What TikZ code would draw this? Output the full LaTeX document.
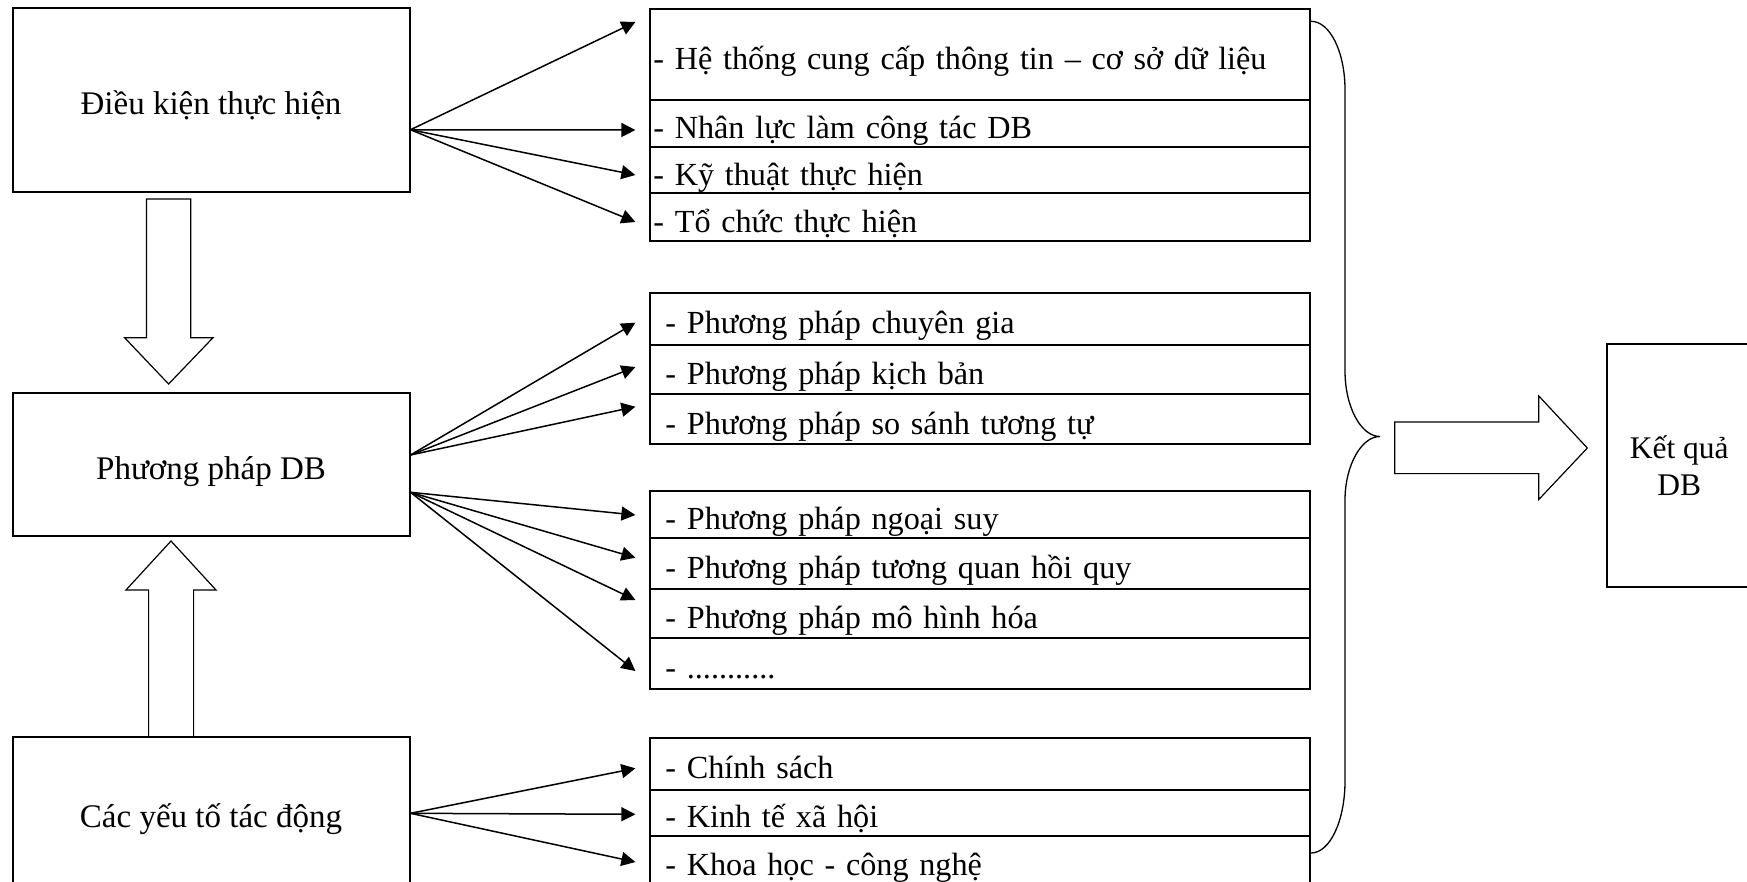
\documentclass[tikz,border=0pt]{standalone}
\usepackage{fontspec}
\setmainfont{Liberation Serif}
\usetikzlibrary{arrows.meta,calc}
\begin{document}
\begin{tikzpicture}[x=1pt,y=-1pt,
  box/.style={draw,line width=2pt,inner sep=0pt,text height=34pt,text depth=4pt,font=\fontsize{33}{38}\selectfont},
  rowbase/.style={draw,line width=2pt,anchor=north west,inner ysep=0pt,text height=34pt,text depth=4pt,align=left,font=\fontsize{32.2}{38}\selectfont},
  rowA/.style={rowbase,inner xsep=3pt,text width=654pt,minimum height=#1},
  rowB/.style={rowbase,inner xsep=15pt,text width=630pt,minimum height=#1},
  arr/.style={line width=1.5pt,-{Triangle[length=14pt,width=14pt]}},
  hollow/.style={draw,line width=1.2pt,line join=miter},
  brace/.style={draw,line width=1.3pt}
]
\useasboundingbox (0,0) rectangle (1747,881);

% left boxes
\node[box,minimum width=397pt,minimum height=184.5pt] (b1) at (211,99.75) {Điều kiện thực hiện};
\node[box,minimum width=397pt,minimum height=143.3pt] (b2) at (211,464.7) {Phương pháp DB};
\node[box,minimum width=397pt,minimum height=150pt] (b3) at (211,812) {Các yếu tố tác động};

% group 1
\node[rowA=91.5pt] (r11) at (649.4,7.5) {- Hệ thống cung cấp thông tin – cơ sở dữ liệu};
\node[rowA=47pt] (r12) at (649.4,99) {- Nhân lực làm công tác DB};
\node[rowA=46.3pt] (r13) at (649.4,146) {- Kỹ thuật thực hiện};
\node[rowA=48pt] (r14) at (649.4,192.3) {- Tổ chức thực hiện};
% group 2
\node[rowB=51.8pt] (r21) at (649.4,292) {- Phương pháp chuyên gia};
\node[rowB=49pt] (r22) at (649.4,343.8) {- Phương pháp kịch bản};
\node[rowB=50.5pt] (r23) at (649.4,392.8) {- Phương pháp so sánh tương tự};
% group 3
\node[rowB=47pt] (r31) at (649.4,490) {- Phương pháp ngoại suy};
\node[rowB=50.7pt] (r32) at (649.4,537) {- Phương pháp tương quan hồi quy};
\node[rowB=49pt] (r33) at (649.4,587.7) {- Phương pháp mô hình hóa};
\node[rowB=51.6pt] (r34) at (649.4,636.7) {- ...........};
% group 4
\node[rowB=51.5pt] (r41) at (649.4,737) {- Chính sách};
\node[rowB=46.3pt] (r42) at (649.4,788.5) {- Kinh tế xã hội};
\node[rowB=49pt] (r43) at (649.4,834.8) {- Khoa học - công nghệ};

% result box
\node[draw,line width=2pt,minimum width=145.5pt,minimum height=243.2pt,align=center,font=\fontsize{31.5}{37}\selectfont] (kq) at (1679.25,465.4) {Kết quả\\DB};

% thin arrows
\draw[arr] ($(b1.east)+(0,30)$) -- ($(r11.west)+(-14,-32.25)$);
\draw[arr] ($(b1.east)+(0,30)$) -- ($(r12.west)+(-14,6.5)$);
\draw[arr] ($(b1.east)+(0,30)$) -- ($(r13.west)+(-14,4.85)$);
\draw[arr] ($(b1.east)+(0,30)$) -- ($(r14.west)+(-14,4.7)$);

\draw[arr] ($(b2.east)+(0,-9.7)$) -- ($(r21.west)+(-14,3.8)$);
\draw[arr] ($(b2.east)+(0,-9.7)$) -- ($(r22.west)+(-14,-2.3)$);
\draw[arr] ($(b2.east)+(0,-9.7)$) -- ($(r23.west)+(-14,-12.35)$);

\draw[arr] ($(b2.east)+(0,27.6)$) -- ($(r31.west)+(-14,0.5)$);
\draw[arr] ($(b2.east)+(0,27.6)$) -- ($(r32.west)+(-14,-5.65)$);
\draw[arr] ($(b2.east)+(0,27.6)$) -- ($(r33.west)+(-14,-13.2)$);
\draw[arr] ($(b2.east)+(0,27.6)$) -- ($(r34.west)+(-14,7.5)$);

\draw[arr] ($(b3.east)+(0,1.3)$) -- ($(r41.west)+(-14,4.55)$);
\draw[arr] ($(b3.east)+(0,1.3)$) -- ($(r42.west)+(-14,1.65)$);
\draw[arr] ($(b3.east)+(0,1.3)$) -- ($(r43.west)+(-14,1.7)$);

% hollow block arrows
\path[hollow] (146.5,199) -- (190.7,199) -- (190.7,337.7) -- (213,337.7) -- (168.6,384) -- (124.6,337.7) -- (146.5,337.7) -- cycle;
\path[hollow] (148.6,737) -- (148.6,590) -- (126,590) -- (171,541) -- (216,590) -- (193.6,590) -- (193.6,737);
\path[hollow] (1394.7,422) -- (1538.8,422) -- (1538.8,396) -- (1587.3,448) -- (1538.8,499.5) -- (1538.8,473.6) -- (1394.7,473.6) -- cycle;

% brace
\path[brace] (1311,21.3) .. controls (1330,21.3) and (1345,52) .. (1345,90)
  -- (1345,371) .. controls (1345,407) and (1361,436.5) .. (1380,436.5)
  .. controls (1361,436.5) and (1345,466) .. (1345,500)
  -- (1345,781) .. controls (1345,820.6) and (1330,853) .. (1311,853);
\end{tikzpicture}
\end{document}
